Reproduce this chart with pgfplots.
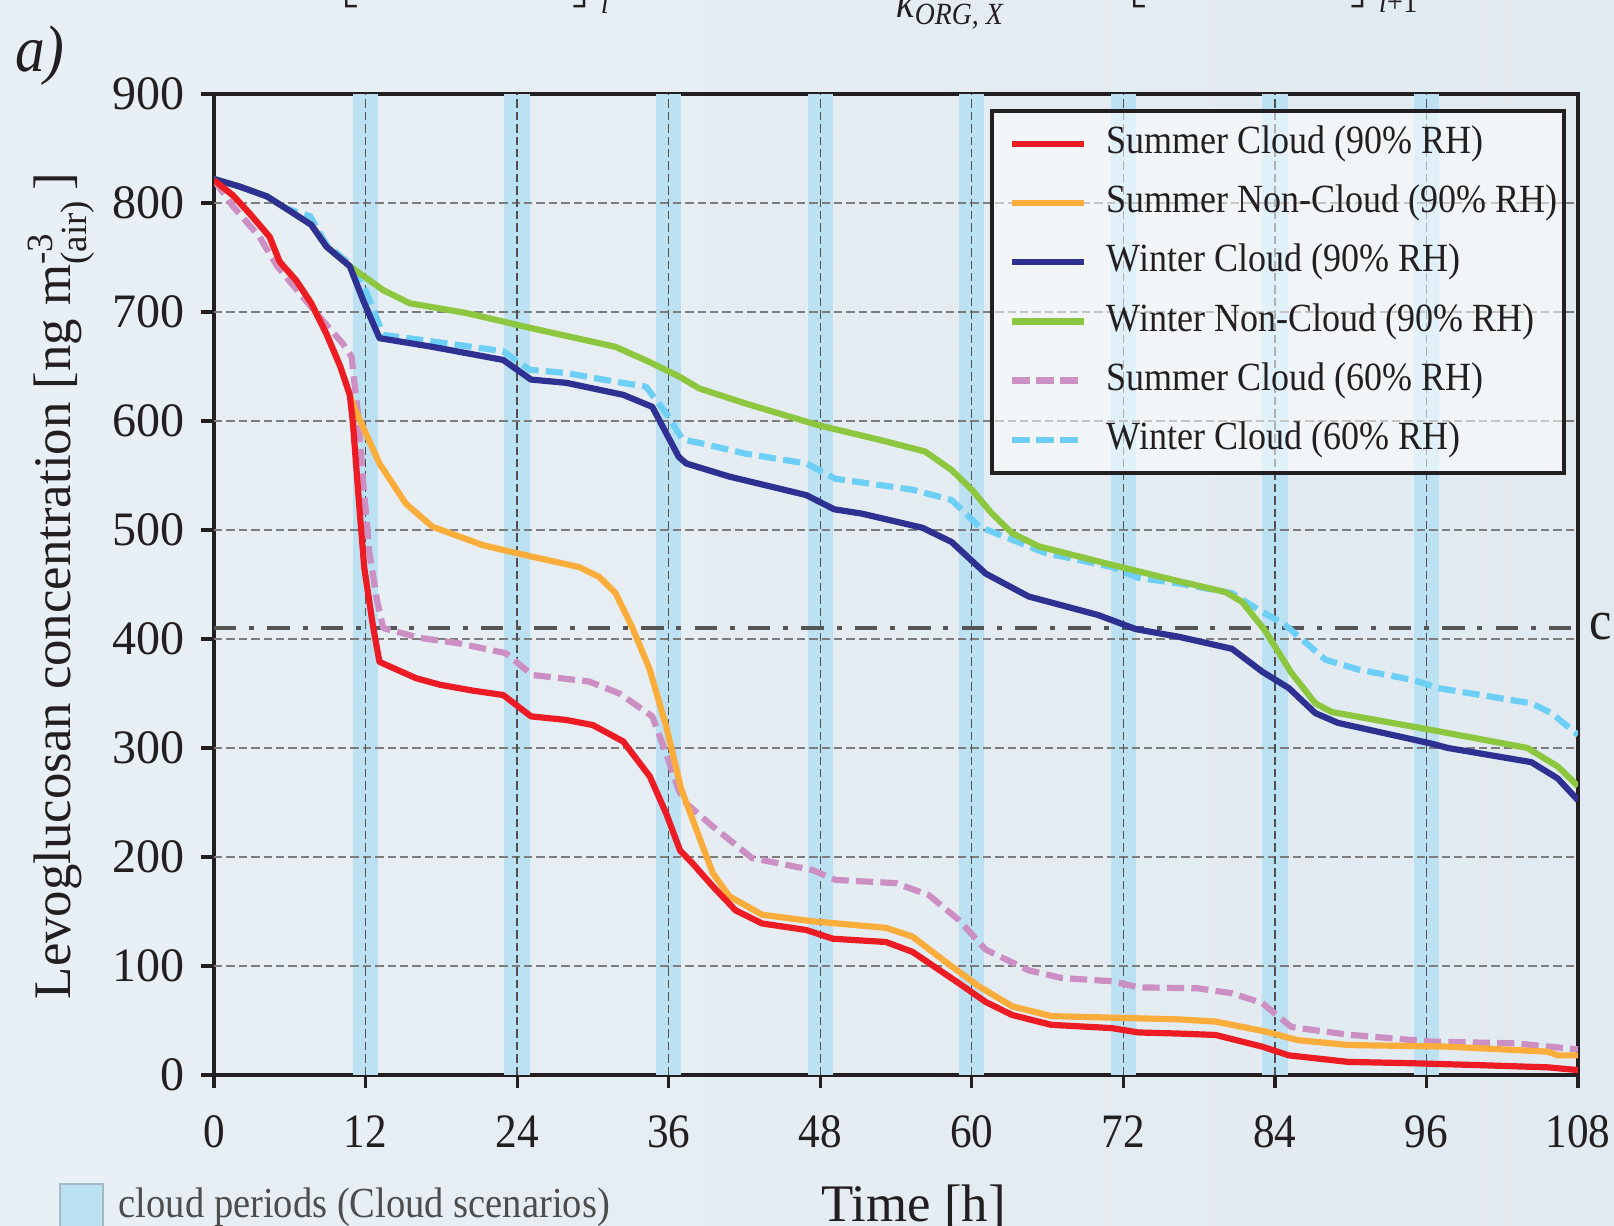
\documentclass[border=0pt]{standalone}
\usepackage{fontspec}
\setmainfont{Liberation Serif}[FakeStretch=0.9]
\newfontfamily\widefont{Liberation Serif}
\usepackage{amsmath}
\usepackage{pgfplots}
\pgfplotsset{compat=1.18}
\definecolor{cRed}{RGB}{237,28,36}
\definecolor{cOrange}{RGB}{251,173,59}
\definecolor{cNavy}{RGB}{46,49,146}
\definecolor{cGreen}{RGB}{141,198,63}
\definecolor{cPink}{RGB}{204,143,196}
\definecolor{cCyan}{RGB}{109,207,246}
\definecolor{cBand}{RGB}{187,225,242}
\definecolor{cInk}{RGB}{35,31,32}
\definecolor{cDash}{RGB}{85,85,85}
\definecolor{cGrid}{RGB}{125,125,125}
\definecolor{cVgrid}{RGB}{80,80,80}
\definecolor{bgL}{RGB}{233,240,245}
\definecolor{bgR}{RGB}{225,234,240}
\begin{document}
\begin{tikzpicture}
\shade[left color=bgL, right color=bgR] (0,0) rectangle (403.5pt,306.5pt);
\begin{axis}[
  at={(53.5pt,37.75pt)}, anchor=south west,
  scale only axis, width=341pt, height=245.25pt,
  xmin=0, xmax=108, ymin=0, ymax=900,
  xtick={0,12,24,36,48,60,72,84,96,108},
  ytick={0,100,200,300,400,500,600,700,800,900},
  tick align=outside, xtick pos=left, ytick pos=left,
  major tick length=3.25pt,
  axis line style={cInk, line width=0.8pt},
  tick style={cInk, line width=0.8pt},
  xticklabel style={font=\fontsize{12}{12}\selectfont, text=cInk, yshift=-3.3pt},
  yticklabel style={font=\widefont\fontsize{12}{12}\selectfont, text=cInk, xshift=-0.5pt},
  /pgf/number format/assume math mode=true,
  legend image code/.code={\path (0pt,0pt); \draw[#1] (2.8pt,0pt) -- (20.7pt,0pt);},
  legend cell align=left,
  legend style={at={(0.5688,0.9847)}, anchor=north west, draw=cInk, line width=1pt,
    fill=white, fill opacity=0.55, text opacity=1, draw opacity=1,
    font=\fontsize{10}{12}\selectfont, text=cInk,
    inner xsep=1.5pt, inner ysep=1.3pt, row sep=1.0pt, column sep=4.9pt,
    nodes={inner xsep=0pt, inner ysep=2pt, text height=7.3pt, text depth=2.5pt}},
]
% cloud periods
\fill[cBand] (axis cs:11,0) rectangle (axis cs:13,900);
\fill[cBand] (axis cs:23,0) rectangle (axis cs:25,900);
\fill[cBand] (axis cs:35,0) rectangle (axis cs:37,900);
\fill[cBand] (axis cs:47,0) rectangle (axis cs:49,900);
\fill[cBand] (axis cs:59,0) rectangle (axis cs:61,900);
\fill[cBand] (axis cs:71,0) rectangle (axis cs:73,900);
\fill[cBand] (axis cs:83,0) rectangle (axis cs:85,900);
\fill[cBand] (axis cs:95,0) rectangle (axis cs:97,900);
% grid
\pgfplotsinvokeforeach{100,200,300,400,500,600,700,800}{
  \draw[cGrid, line width=0.35pt, dash pattern=on 2.1pt off 1pt] (axis cs:0,#1) -- (axis cs:108,#1);}
\pgfplotsinvokeforeach{12,24,36,48,60,72,84,96}{
  \draw[cVgrid, line width=0.35pt, dash pattern=on 2.1pt off 1pt] (axis cs:#1,0) -- (axis cs:#1,900);}
% threshold
\addplot[forget plot, cDash, line width=1pt, dash pattern=on 5.6pt off 3.2pt on 1.25pt off 3.3pt] coordinates {(0,410) (108,410)};
% Winter Cloud 60% RH
\addplot[forget plot, cCyan, line width=1.55pt, dash pattern=on 4.3pt off 1.8pt, line join=round] coordinates {
(0,822) (2.05,815) (4.2,806) (5.7,795) (7.6,788) (8.9,762) (10.75,744) (12.1,717) (13.4,679) (17.3,673) (22.9,664) (25.0,647) (27.9,644) (31.8,636) (34.2,631.5) (35.8,607) (37.1,583) (38.4,580) (42.1,570) (46.9,561) (49.2,547) (55.3,537) (58.4,527.5) (60.6,503) (63.2,491) (65.8,479) (71.1,466) (73.2,456) (76.4,451) (80.6,442) (82.7,427) (84.8,413) (88.0,381) (90.6,372) (95.1,362) (96.9,355) (104.3,341) (105.9,332) (108,312)};
% Summer Cloud 60% RH
\addplot[forget plot, cPink, line width=1.55pt, dash pattern=on 4.3pt off 1.8pt, line join=round] coordinates {
(0,821) (1.5,797) (3.6,769) (5.0,742) (6.8,717) (8.1,699) (10.2,671) (10.9,659) (11.0,647) (11.4,607) (11.8,546) (12.3,480) (12.9,436) (13.4,410) (16.3,401) (19.4,396) (23.1,387) (25.2,367) (29.7,361) (32.1,350) (34.7,329) (35.8,295) (36.8,261) (37.4,249) (39.5,228) (42.6,199) (47.4,188) (49.2,179) (54.0,176) (56.6,165) (59.0,142) (61.1,115) (64.5,96) (67.1,89) (71.1,86) (73.2,80.4) (77.9,79.5) (80.6,75) (83.0,66) (85.3,44) (89.8,37) (96.4,30.6) (103.0,29) (108,23.5)};
% Winter Non-Cloud 90% RH
\addplot[forget plot, cGreen, line width=1.55pt, line join=round] coordinates {
(0,822) (2.05,815) (4.2,806) (5.7,795) (7.7,780) (8.9,760) (10.75,742) (13.4,720) (15.5,708) (20.0,699) (25.2,685) (31.8,668) (34.5,654) (36.8,641) (38.4,630) (42.1,616) (47.9,596) (52.6,583) (56.3,572) (58.4,555) (60.0,537) (61.6,515) (63.2,497) (65.3,485) (71.1,468) (76.4,453) (80.1,443) (81.4,434) (83.2,408) (85.3,369) (87.2,341) (88.5,333) (96.4,316.5) (104.0,300) (106.4,283) (108,265)};
% Summer Non-Cloud 90% RH
\addplot[forget plot, cOrange, line width=1.55pt, line join=round] coordinates {
(0,821) (1.5,807) (2.85,790) (4.4,769) (5.2,746) (6.5,729) (7.7,708) (8.9,680) (10,650) (10.75,624) (11.0,615) (13.1,561) (15.2,524) (17.3,503) (21.3,486) (25.2,475.5) (28.9,466) (30.5,457) (31.8,442) (33.1,411) (34.5,372) (35.8,320) (37.0,262) (38.2,225) (39.5,185) (40.8,164) (43.4,147) (47.4,141) (53.2,135) (55.3,127) (57.9,104) (60.6,81) (63.2,63) (66.3,54) (71.1,52.6) (76.4,51) (79.3,49) (83.2,40) (85.8,32) (89.8,27.5) (97.7,26) (105.6,21.4) (106.4,18) (108,18)};
% Winter Cloud 90% RH
\addplot[forget plot, cNavy, line width=1.55pt, line join=round] coordinates {
(0,822) (2.05,815) (4.2,806) (5.7,795) (7.7,780) (8.9,760) (10.75,742) (11.8,711) (13.1,676) (17.3,668) (22.9,656) (25.1,638) (27.9,635) (32.4,624) (34.7,613) (36.8,567) (37.4,561) (40.8,549) (46.9,532) (49.1,519) (51.3,515) (56.1,502) (58.4,489) (61.1,460) (64.5,439) (70.0,422) (73.0,409) (76.4,402) (80.6,391) (83.0,370) (85.1,355) (87.2,332) (89.0,323) (96.4,304) (97.7,300) (104.3,287) (106.4,272) (108,252)};
% Summer Cloud 90% RH
\addplot[forget plot, cRed, line width=1.55pt, line join=round] coordinates {
(0,821) (1.5,807) (2.85,790) (4.4,769) (5.2,746) (6.5,729) (7.7,708) (8.9,680) (10,650) (10.75,624) (11.0,598) (11.55,515) (11.9,465) (12.6,411) (13.1,379) (16.0,364) (17.9,358) (20.5,352.6) (22.9,348.6) (25.1,329) (27.9,325.7) (30.0,321) (32.4,306) (34.5,274) (35.8,240) (36.9,206) (37.9,194) (39.5,173) (41.3,151) (43.4,139) (46.9,133) (49.0,125) (53.2,122) (55.3,113) (59.0,84) (61.1,67) (63.2,55) (66.3,46) (71.1,43) (73.2,39) (76.4,38) (79.3,36.7) (83.0,26) (85.1,18) (89.8,12) (95.1,10.7) (100.3,9) (105.6,7) (108,4.5)};
% legend
\addlegendimage{cRed, line width=1.6pt}\addlegendentry{Summer Cloud (90\% RH)}
\addlegendimage{cOrange, line width=1.6pt}\addlegendentry{Summer Non-Cloud (90\% RH)}
\addlegendimage{cNavy, line width=1.6pt}\addlegendentry{Winter Cloud (90\% RH)}
\addlegendimage{cGreen, line width=1.6pt}\addlegendentry{Winter Non-Cloud (90\% RH)}
\addlegendimage{cPink, line width=1.6pt, dash pattern=on 4.5pt off 1.5pt}\addlegendentry{Summer Cloud (60\% RH)}
\addlegendimage{cCyan, line width=1.6pt, dash pattern=on 4.5pt off 1.5pt}\addlegendentry{Winter Cloud (60\% RH)}
\end{axis}
% axis titles and annotations
\node[anchor=base, rotate=90, font=\widefont\fontsize{13.2}{13.2}\selectfont, text=cInk] at (17.5pt,160pt) {Levoglucosan concentration [ng m$^{\text{-3}}_{\text{(air)}}$\,]};
\node[anchor=base, font=\widefont\fontsize{13.2}{13.2}\selectfont, text=cInk] at (228.4pt,1pt) {Time [h]};
\filldraw[fill=cBand, draw={rgb,255:red,165;green,185;blue,198}, line width=0.6pt] (15pt,-3pt) rectangle (25.75pt,10.5pt);
\node[anchor=base west, inner sep=0pt, font=\fontsize{10.7}{10.7}\selectfont, text={rgb,255:red,77;green,77;blue,77}] at (29.5pt,2pt) {cloud periods (Cloud scenarios)};
\node[font=\itshape\fontsize{16.5}{16.5}\selectfont, text=cInk] at (10pt,292.5pt) {a)};
\node[anchor=base west, inner sep=0pt, font=\fontsize{14}{14}\selectfont, text=cInk] at (397.2pt,146.5pt) {c};
% cropped equation fragments at the top
\node[anchor=south west, inner sep=0pt, text=cInk] at (83.5pt,304.25pt) {$\Bigg[$};
\node[anchor=south east, inner sep=0pt, text=cInk] at (149.5pt,304.25pt) {$\Bigg]$};
\node[anchor=base west, inner sep=0pt, font=\itshape\fontsize{8}{8}\selectfont, text=cInk] at (150pt,303pt) {i};
\node[anchor=base west, inner sep=0pt, font=\fontsize{11}{11}\selectfont, text=cInk] at (224pt,302pt) {\textit{k}\textsubscript{\textit{ORG, X}}};
\node[anchor=south west, inner sep=0pt, text=cInk] at (280.5pt,304.25pt) {$\Bigg[$};
\node[anchor=south east, inner sep=0pt, text=cInk] at (344pt,304.25pt) {$\Bigg]$};
\node[anchor=base west, inner sep=0pt, font=\fontsize{8}{8}\selectfont, text=cInk] at (344.5pt,303.25pt) {\textit{i}+1};
\pgfresetboundingbox
\useasboundingbox (0,0) rectangle (403.5pt,306.5pt);
\end{tikzpicture}
\end{document}
